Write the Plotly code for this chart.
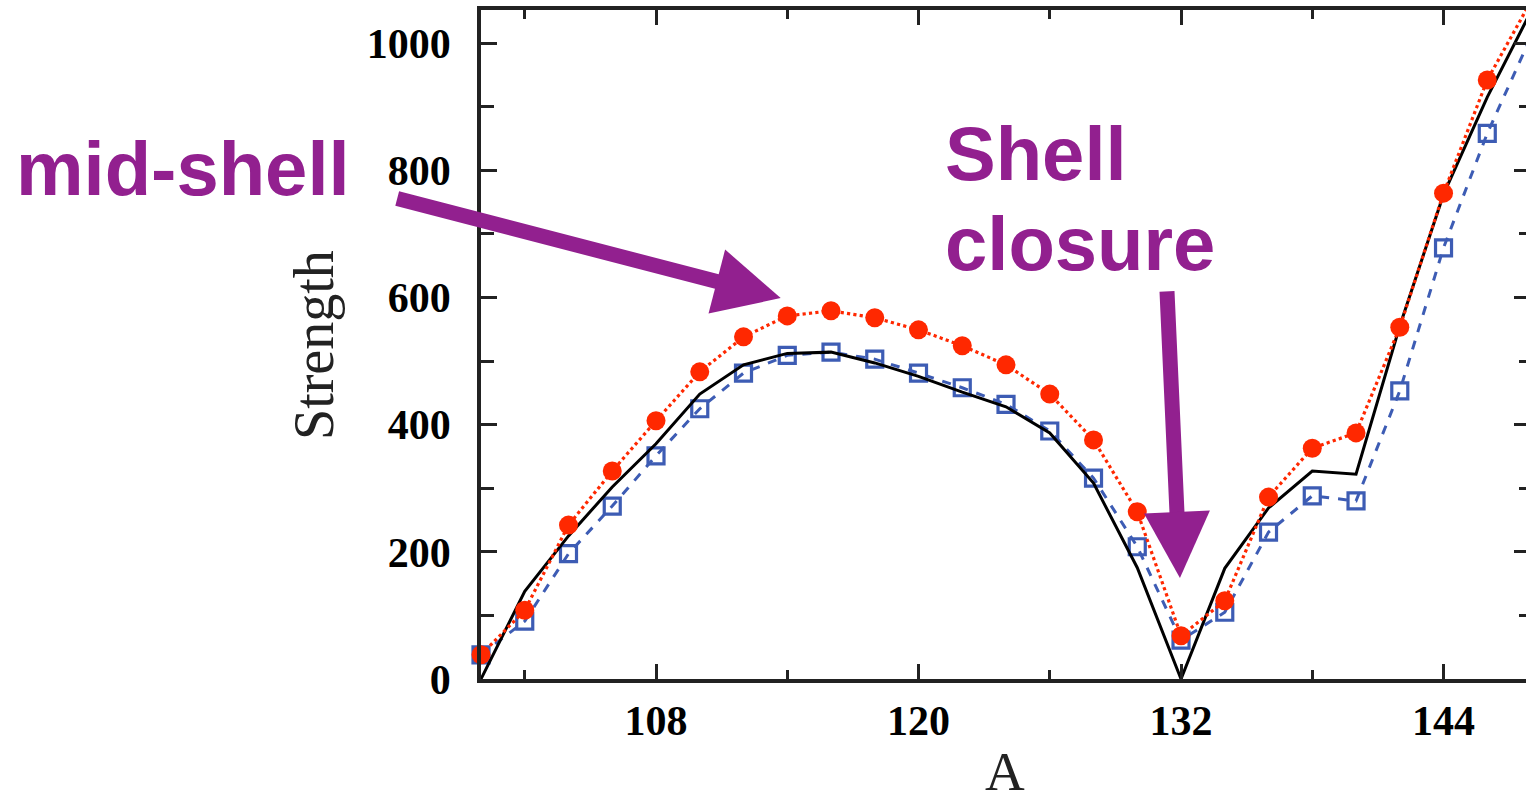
import plotly.graph_objects as go

# Mass number A (even nuclei)
mass_number = [100, 102, 104, 106, 108, 110, 112, 114, 116, 118, 120, 122, 124,
               126, 128, 130, 132, 134, 136, 138, 140, 142, 144, 146, 148]

# Model curve (solid black, no markers)
strength_model = [0, 138, 225, 302, 370, 448, 494, 512, 514, 497, 476, 451, 428,
                  387, 308, 175, 0, 174, 269, 327, 322, 555, 762, 915, 1050]

# Red filled circles, dotted line
strength_red = [38, 108, 242, 327, 406, 483, 538, 571, 579, 568, 549, 524, 494,
                448, 376, 263, 68, 123, 286, 363, 387, 553, 764, 942, 1066]

# Blue open squares, dashed line
strength_blue = [38, 91, 197, 272, 351, 425, 481, 509, 514, 503, 481, 458, 432,
                 390, 316, 208, 61, 105, 231, 288, 280, 453, 678, 858, 1010]

X_RANGE = [100, 147.77]
Y_RANGE = [0, 1052]

RED = "#FF2800"
BLUE = "#3D5CB4"
PURPLE = "#92208F"

# figure geometry (pixels)
W, H = 1526, 804
ML, MR, MT, MB = 481, 0, 10, 125
PW, PH = W - ML - MR, H - MT - MB


def paper_x(px):
    return (px - ML) / PW


def paper_y(py):
    return (H - MB - py) / PH


fig = go.Figure()

# blue series: line clipped to the frame, markers free to overhang the axis
fig.add_trace(go.Scatter(x=mass_number, y=strength_blue, mode="lines",
                         line=dict(color=BLUE, width=3, dash="dash"),
                         showlegend=False, hoverinfo="skip"))
fig.add_trace(go.Scatter(x=mass_number[:-1], y=strength_blue[:-1], mode="markers",
                         marker=dict(symbol="square-open", size=16,
                                     color=BLUE, line=dict(color=BLUE, width=3.2)),
                         cliponaxis=False, showlegend=False))

# black model curve
fig.add_trace(go.Scatter(x=mass_number, y=strength_model, mode="lines",
                         line=dict(color="black", width=3),
                         showlegend=False))

# red series
fig.add_trace(go.Scatter(x=mass_number, y=strength_red, mode="lines",
                         line=dict(color=RED, width=3.2, dash="dot"),
                         showlegend=False, hoverinfo="skip"))
fig.add_trace(go.Scatter(x=mass_number[:-1], y=strength_red[:-1], mode="markers",
                         marker=dict(symbol="circle", size=19, color=RED),
                         cliponaxis=False, showlegend=False))

# invisible trace to carry the right-hand tick marks
fig.add_trace(go.Scatter(x=[None], y=[None], yaxis="y2", showlegend=False))

tick_font = dict(family="Liberation Serif", size=42, color="black", weight="bold")

fig.update_layout(
    width=W, height=H,
    margin=dict(l=ML, r=MR, t=MT, b=MB),
    paper_bgcolor="white", plot_bgcolor="white",
    xaxis=dict(range=X_RANGE, tickmode="linear", tick0=0, dtick=12,
               ticks="inside", ticklen=15, tickwidth=3, tickcolor="#222",
               minor=dict(dtick=6, ticks="inside", ticklen=9, tickwidth=3,
                          tickcolor="#222"),
               showline=True, linewidth=3.5, linecolor="#222", mirror="ticks",
               showgrid=False, zeroline=False, tickfont=tick_font,
               ticklabelstandoff=2),
    yaxis=dict(range=Y_RANGE, tickmode="linear", tick0=0, dtick=200,
               ticks="inside", ticklen=16, tickwidth=3, tickcolor="#222",
               minor=dict(dtick=100, ticks="inside", ticklen=13, tickwidth=3,
                          tickcolor="#222"),
               showline=True, linewidth=3.5, linecolor="#222", mirror=False,
               showgrid=False, zeroline=False, tickfont=tick_font,
               ticklabelstandoff=18),
    yaxis2=dict(range=Y_RANGE, overlaying="y", side="right", tickmode="linear",
                tick0=0, dtick=200, ticks="inside", ticklen=12, tickwidth=3,
                tickcolor="#222",
                minor=dict(dtick=100, ticks="inside", ticklen=7, tickwidth=3,
                           tickcolor="#222"),
                showticklabels=False, showline=False, showgrid=False,
                zeroline=False),
)

title_font = dict(family="Liberation Serif", size=56, color="#222")
label_font = dict(family="Liberation Sans", size=76, color=PURPLE, weight="bold")

annotations = [
    # axis titles
    dict(text="Strength", xref="paper", yref="paper", x=paper_x(314),
         y=paper_y(345), textangle=-90, showarrow=False, font=title_font,
         xanchor="center", yanchor="middle"),
    dict(text="A", xref="paper", yref="paper", x=paper_x(1005),
         y=paper_y(804), showarrow=False,
         font=dict(family="Liberation Serif", size=55, color="#222"),
         xanchor="center", yanchor="bottom"),
    # callout labels
    dict(text="mid-shell", xref="paper", yref="paper", x=paper_x(14),
         y=paper_y(168), showarrow=False, font=label_font,
         xanchor="left", yanchor="middle"),
    dict(text="Shell", xref="paper", yref="paper", x=paper_x(943),
         y=paper_y(153), showarrow=False, font=label_font,
         xanchor="left", yanchor="middle"),
    dict(text="closure", xref="paper", yref="paper", x=paper_x(943),
         y=paper_y(243), showarrow=False, font=label_font,
         xanchor="left", yanchor="middle"),
    # callout arrows
    dict(text="", x=113.7, y=599, xref="x", yref="y", ax=-385, ay=-100,
         showarrow=True, arrowhead=2, arrowsize=0.88, arrowwidth=15,
         arrowcolor=PURPLE),
    dict(text="", x=131.95, y=159, xref="x", yref="y", ax=-13, ay=-288,
         showarrow=True, arrowhead=2, arrowsize=0.88, arrowwidth=15,
         arrowcolor=PURPLE),
]
fig.update_layout(annotations=annotations)

fig.write_html("out.html")
